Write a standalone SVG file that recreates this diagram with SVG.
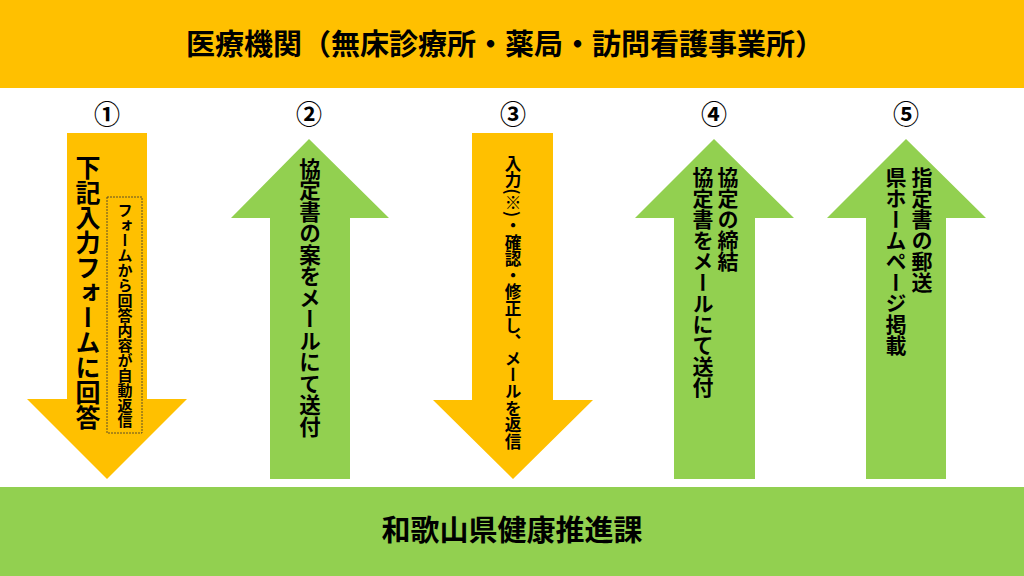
<svg xmlns="http://www.w3.org/2000/svg" width="1024" height="576" viewBox="0 0 1024 576">
<style>
.band-o{fill:#FFC000}
.band-g{fill:#92D050}
.t{font-family:"Noto Sans CJK JP","Noto Sans CJK SC",sans-serif;fill:#000}
.b{font-weight:bold}
.v{writing-mode:vertical-rl;font-family:"Noto Sans CJK JP","Noto Sans CJK SC",sans-serif;fill:#000;font-weight:bold}
.num{font-family:"Noto Sans CJK JP",sans-serif;font-size:26px;font-weight:bold;text-anchor:middle;fill:#000}
</style>
<rect x="0" y="0" width="1024" height="576" fill="#FFFFFF"/>
<g id="top">
<rect class="band-o" x="0" y="0" width="1024" height="88"/>
<text class="t b" x="505" y="55" font-size="29" text-anchor="middle">医療機関（無床診療所・薬局・訪問看護事業所）</text>
</g>
<g id="bottom">
<rect class="band-g" x="0" y="487" width="1024" height="89"/>
<text class="t b" x="512" y="541" font-size="29" text-anchor="middle">和歌山県健康推進課</text>
</g>
<g id="connectors">
<polygon id="a1" class="band-o" points="67,133 147,133 147,399 187,399 107,479 27,399 67,399"/>
<polygon id="a2" class="band-g" points="309,139 389,218 350,218 350,479 270,479 270,218 231,218"/>
<polygon id="a3" class="band-o" points="472,133 553,133 553,400 593,400 513,479 433,400 472,400"/>
<polygon id="a4" class="band-g" points="714,139 794,218 755,218 755,479 674,479 674,218 635,218"/>
<polygon id="a5" class="band-g" points="906,139 986,218 946,218 946,479 866,479 866,218 827,218"/>
</g>
<g id="n1">
<text class="num" x="107" y="124">①</text>
<text class="v" x="88" y="155" font-size="25">下記入力フォームに回答</text>
<rect x="107" y="197" width="35" height="236" fill="none" stroke="#333" stroke-width="0.8" stroke-dasharray="2,1"/>
<text class="v" x="125" y="203" font-size="15">フォームから回答内容が自動返信</text>
</g>
<g id="n2">
<text class="num" x="309" y="124">②</text>
<text class="v" x="310" y="158" font-size="21.5">協定書の案をメールにて送付</text>
</g>
<g id="n3">
<text class="num" x="513" y="124">③</text>
<text class="v" x="513" y="155" font-size="16.6">入力(※)・確認・修正し、メールを返信</text>
</g>
<g id="n4">
<text class="num" x="714" y="124">④</text>
<text class="v" x="728" y="167" font-size="21">協定の締結</text>
<text class="v" x="703" y="167" font-size="21">協定書をメールにて送付</text>
</g>
<g id="n5">
<text class="num" x="906" y="124">⑤</text>
<text class="v" x="922" y="167" font-size="21">指定書の郵送</text>
<text class="v" x="896" y="167" font-size="21">県ホームページ掲載</text>
</g>
</svg>
